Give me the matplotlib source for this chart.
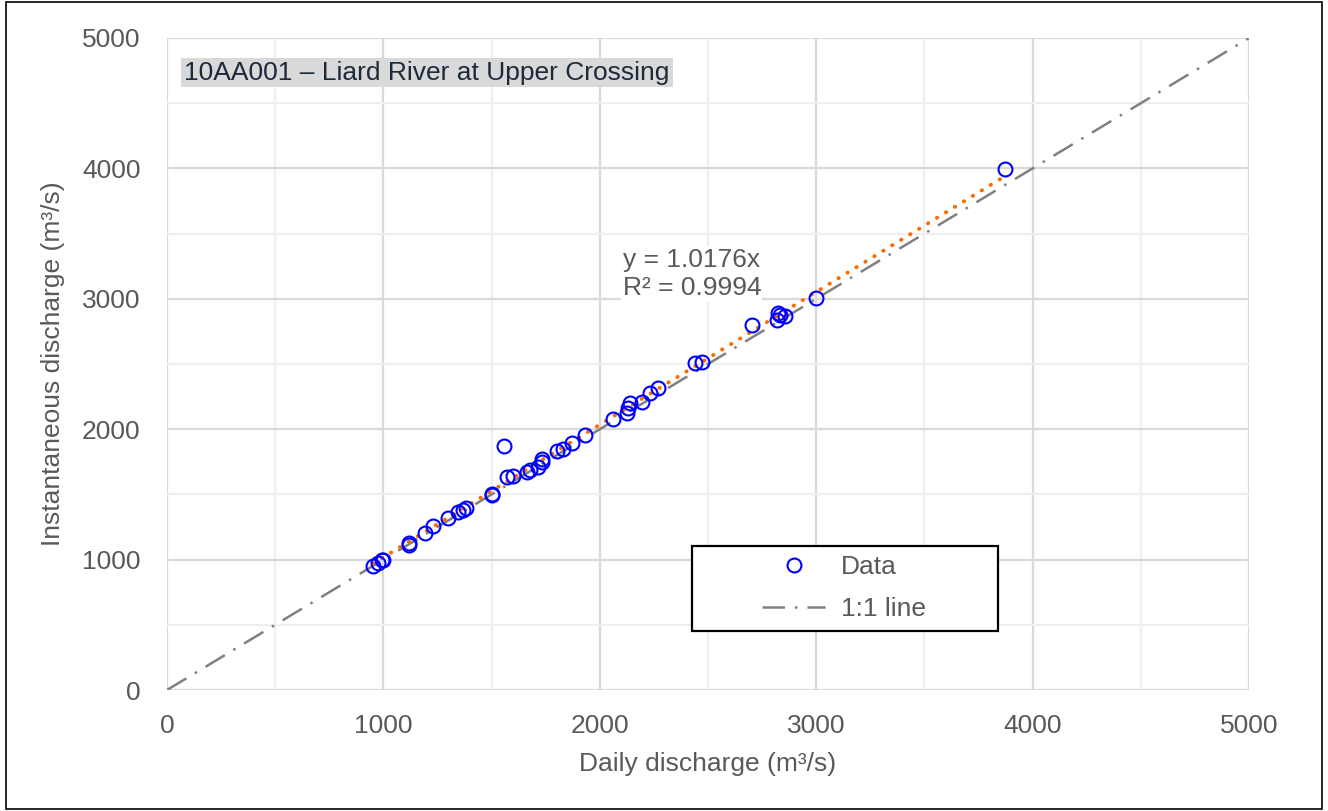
import matplotlib
matplotlib.use("Agg")
import matplotlib.pyplot as plt
import numpy as np
from matplotlib.patches import Rectangle

plt.rcParams['font.family'] = ['Liberation Sans', 'DejaVu Sans']

# Paired discharge observations (m3/s)
daily = [952, 975, 994, 1000, 1118, 1120, 1192, 1229, 1299, 1345, 1368, 1382,
         1502, 1500, 1557, 1571, 1599, 1664, 1677, 1714, 1733, 1733, 1802, 1830,
         1872, 1932, 2061, 2126, 2130, 2140, 2195, 2232, 2269, 2440, 2472, 2703,
         2819, 2833, 2856, 2823, 2999, 3872]
instantaneous = [951, 974, 997, 1000, 1127, 1110, 1204, 1258, 1319, 1365, 1380, 1396,
                 1495, 1503, 1871, 1633, 1641, 1672, 1687, 1710, 1748, 1771, 1833, 1848,
                 1894, 1956, 2078, 2124, 2163, 2201, 2209, 2278, 2316, 2508, 2515, 2799,
                 2837, 2876, 2868, 2891, 3006, 3995]

trend_slope = 1.0176
trend_r2 = 0.9994
axis_max = 5000
ticks = [0, 1000, 2000, 3000, 4000, 5000]
station_title = "10AA001 – Liard River at Upper Crossing"

grey = "#595959"
fs = 19

fig = plt.figure(figsize=(13.28, 8.11), dpi=100)
ax = fig.add_axes([167/1328, 1 - 690/811, (1249-167)/1328, (690-38)/811])

# gridlines
ax.set_xlim(0, axis_max)
ax.set_ylim(0, axis_max)
ax.set_xticks(ticks)
ax.set_yticks(ticks)
ax.set_xticks(np.arange(500, axis_max, 1000), minor=True)
ax.set_yticks(np.arange(500, axis_max, 1000), minor=True)
ax.grid(True, which='major', color='#d9d9d9', linewidth=1.6, zorder=0)
ax.grid(True, which='minor', color='#efefef', linewidth=1.6, zorder=0)
ax.set_axisbelow(True)
for s in ax.spines.values():
    s.set_visible(False)
ax.tick_params(which='both', length=0, labelsize=fs, colors=grey)
ax.tick_params(axis='y', pad=19)
ax.tick_params(axis='x', pad=17)

# 1:1 reference line
ax.plot([0, axis_max], [0, axis_max], color='#808080', linewidth=1.8,
        linestyle=(0, (9, 4, 1, 4)), label='1:1 line', zorder=2)

# linear trendline through origin
xt = np.array([min(daily), max(daily)])
ax.plot(xt, trend_slope * xt, color='#ff6a00', linewidth=2.8,
        linestyle=(0, (0.1, 2.6)), dash_capstyle='round', zorder=3)

# observations
ax.plot(daily, instantaneous, linestyle='none', marker='o', markersize=10,
        markerfacecolor='none', markeredgecolor='#0000ff', markeredgewidth=1.5,
        label='Data', zorder=4)

ax.set_xlabel("Daily discharge (m³/s)", fontsize=fs, color=grey, labelpad=10)
ax.set_ylabel("Instantaneous discharge (m³/s)", fontsize=fs, color=grey, labelpad=12)

# station name
ax.text(0.016, 0.947, station_title, transform=ax.transAxes, fontsize=fs,
        color='#1c2a3a', va='center', ha='left',
        bbox=dict(facecolor='#d9d9d9', edgecolor='none', pad=2.0))

# trendline equation
ax.text(2105, 3190, f"y = {trend_slope}x\nR² = {trend_r2}", fontsize=fs, color=grey,
        va='center', ha='left', linespacing=1.25,
        bbox=dict(facecolor='white', edgecolor='none', pad=1))

# legend box
def ax_frac(px, py):
    return (px - 167) / 1082, (690 - py) / 652

bx0, by0 = ax_frac(692, 631)
bx1, by1 = ax_frac(998, 546)
ax.add_patch(Rectangle((bx0, by0), bx1 - bx0, by1 - by0, transform=ax.transAxes,
                       facecolor='white', edgecolor='black', linewidth=1.6, zorder=5))

handles, labels = ax.get_legend_handles_labels()
lx, ly = ax_frac(762, 555)
leg = ax.legend(handles[::-1], labels[::-1], loc='upper left',
                bbox_to_anchor=(lx, ly), fontsize=fs, frameon=False,
                labelcolor=grey, handlelength=2.4, borderpad=0.0,
                labelspacing=0.68, handletextpad=0.6, borderaxespad=0)
leg.set_zorder(6)

# outer frame
fig.patches.append(Rectangle((6/1328, 2/811), 1316/1328, 807/811, transform=fig.transFigure,
                             fill=False, edgecolor='black', linewidth=1.2))

fig.savefig("out.png", dpi=100)
